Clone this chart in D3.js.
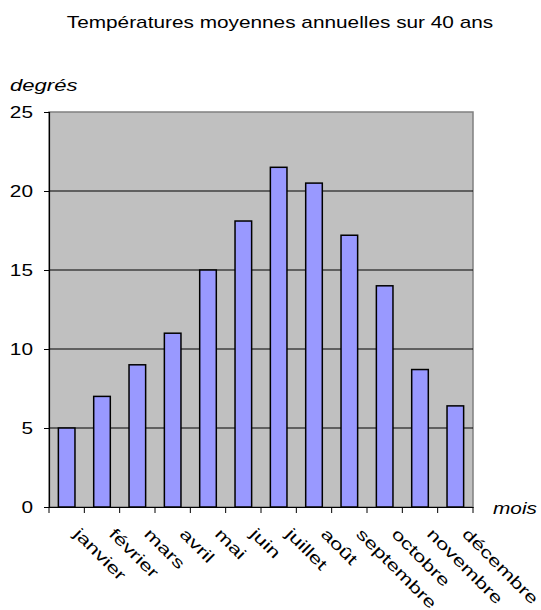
<!DOCTYPE html>
<html><head><meta charset="utf-8">
<script src="https://cdn.jsdelivr.net/npm/d3@7"></script>
<style>body{margin:0;background:#fff}svg{display:block;font-family:"Liberation Sans",Arial,sans-serif}</style>
</head><body>
<script>
const months = ["janvier","février","mars","avril","mai","juin","juillet","août","septembre","octobre","novembre","décembre"];
const temps = [5, 7, 9, 11, 15, 18.1, 21.5, 20.5, 17.2, 14, 8.7, 6.4];
const yTicks = [0, 5, 10, 15, 20, 25];
const title = "Températures moyennes annuelles sur 40 ans";

const W = 541, H = 610;
const SX = 1.3; // horizontal glyph stretch seen in the reference
const m = {left: 49, right: 473, top: 112, bottom: 507};
const svg = d3.select("body").append("svg").attr("width", W).attr("height", H);

const x = d3.scaleBand().domain(months).range([m.left, m.right]).paddingInner(0).paddingOuter(0);
const y = d3.scaleLinear().domain([0, 25]).range([m.bottom, m.top]);

svg.append("rect").attr("x", m.left).attr("y", m.top).attr("width", m.right - m.left).attr("height", m.bottom - m.top)
  .attr("fill", "#c0c0c0").attr("stroke", "#808080").attr("stroke-width", 1.5);

svg.append("g").selectAll("line").data(yTicks.filter(d => d > 0 && d < 25)).join("line")
  .attr("x1", m.left).attr("x2", m.right).attr("y1", d => y(d)).attr("y2", d => y(d))
  .attr("stroke", "#000").attr("stroke-width", 1);

const bw = x.bandwidth() * 0.47;
svg.append("g").selectAll("rect").data(months).join("rect")
  .attr("x", (d) => x(d) + (x.bandwidth() - bw) / 2)
  .attr("y", (d, i) => y(temps[i]))
  .attr("width", bw)
  .attr("height", (d, i) => y(0) - y(temps[i]))
  .attr("fill", "#9999ff").attr("stroke", "#000").attr("stroke-width", 1.5);

// y axis
const ya = svg.append("g").attr("transform", `translate(${m.left},0)`)
  .call(d3.axisLeft(y).tickValues(yTicks).tickSize(5).tickFormat(""));
ya.select(".domain").attr("stroke", "#000").attr("stroke-width", 1.2);
ya.selectAll(".tick line").attr("stroke", "#000");
svg.append("g").selectAll("text").data(yTicks).join("text")
  .attr("transform", d => `translate(33,${y(d) + 6}) scale(${SX},1)`)
  .attr("text-anchor", "end").attr("font-size", 16).attr("fill", "#000")
  .text(d => d3.format("d")(d));

// x axis
const xa = svg.append("g").attr("transform", `translate(0,${m.bottom})`)
  .call(d3.axisBottom(x).tickSize(0).tickFormat(""));
xa.select(".domain").attr("stroke", "#000").attr("stroke-width", 1.2);
const bounds = d3.range(months.length + 1).map(i => m.left + i * x.step());
svg.append("g").selectAll("line").data(bounds).join("line")
  .attr("x1", d => d).attr("x2", d => d).attr("y1", m.bottom).attr("y2", m.bottom + 6)
  .attr("stroke", "#000");

svg.append("g").selectAll("text").data(months).join("text")
  .attr("transform", d => `translate(${x(d) + x.bandwidth() / 2 + 6},${m.bottom + 28}) rotate(45) scale(1.4,1)`)
  .attr("font-size", 16).attr("text-anchor", "start").attr("fill", "#000")
  .text(d => d);

svg.append("text").attr("transform", `translate(280,28) scale(${SX},1)`).attr("text-anchor", "middle")
  .attr("font-size", 16).attr("fill", "#000").text(title);
svg.append("text").attr("transform", `translate(10,91) scale(${SX},1)`).attr("font-size", 17).attr("font-style", "italic").attr("fill", "#000").text("degrés");
svg.append("text").attr("transform", `translate(493,514) scale(${SX},1)`).attr("font-size", 16).attr("font-style", "italic").attr("fill", "#000").text("mois");
</script>
</body></html>
